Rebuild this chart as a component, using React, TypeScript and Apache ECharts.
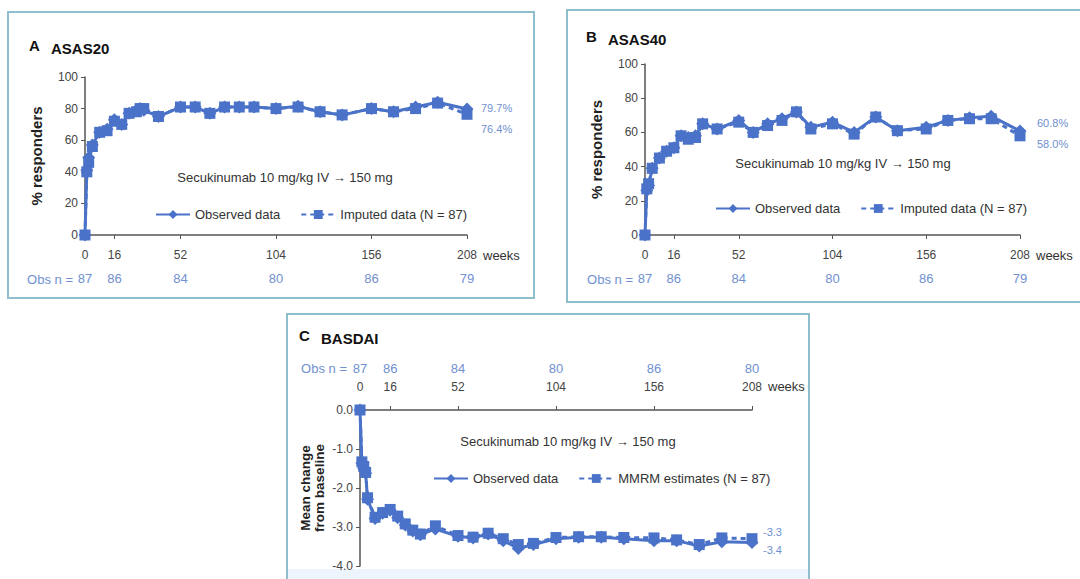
import React, { useEffect, useRef } from "react";
import * as echarts from "echarts";

// ---- Data ----
const tickWeeks = [0, 16, 52, 104, 156, 208];
const obsNAB = [87, 86, 84, 80, 86, 79];
const obsNC = [87, 86, 84, 80, 86, 80];

const weeksA = [0, 1, 2, 4, 8, 12, 16, 20, 24, 28, 30, 32, 40, 52, 60, 68, 76, 84, 92, 104, 116, 128, 140, 156, 168, 180, 192, 208];
const obsA = [0, 41, 49, 57, 65, 67, 73, 70, 77, 79, 80, 79, 75, 81, 81, 77, 81, 81, 81, 80, 81.5, 78, 76, 80, 78, 81, 84, 79.7];
const impA = [0, 40, 46, 56, 65, 66, 72, 70, 77, 78, 80, 80, 75, 81, 81, 77, 81, 81, 81, 80, 81, 78, 76, 80, 78, 80, 83.5, 76.4];

const weeksB = [0, 1, 2, 4, 8, 12, 16, 20, 24, 28, 32, 40, 52, 60, 68, 76, 84, 92, 104, 116, 128, 140, 156, 168, 180, 192, 208];
const obsB = [0, 26, 29, 39, 45, 49, 51, 58, 57, 58, 65, 62, 67, 60, 65, 68, 72, 63, 66, 60, 69, 61, 63, 67, 68.5, 69.5, 60.8];
const impB = [0, 27, 30, 39, 45, 49, 51, 58, 56, 57, 65, 62, 66, 60, 64, 67, 72, 62, 65, 59, 69, 61, 62, 67, 68, 68, 58.0];

const weeksC = [0, 1, 2, 3, 4, 8, 12, 16, 20, 24, 28, 32, 40, 52, 60, 68, 76, 84, 92, 104, 116, 128, 140, 156, 168, 180, 192, 208];
const obsC = [0, -1.36, -1.5, -1.62, -2.29, -2.78, -2.65, -2.57, -2.76, -2.95, -3.1, -3.2, -3.05, -3.24, -3.28, -3.18, -3.35, -3.55, -3.45, -3.3, -3.26, -3.26, -3.3, -3.35, -3.35, -3.49, -3.38, -3.4];
const impC = [0, -1.33, -1.45, -1.6, -2.25, -2.75, -2.63, -2.55, -2.72, -2.92, -3.08, -3.18, -2.97, -3.22, -3.26, -3.16, -3.3, -3.45, -3.42, -3.27, -3.25, -3.25, -3.27, -3.28, -3.33, -3.45, -3.28, -3.3];

const LBL_OBS = "Observed data";
const LBL_IMP = "Imputed data (N = 87)";
const LBL_MMRM = "MMRM estimates (N = 87)";
const SUBTITLE = "Secukinumab 10 mg/kg IV \u2192 150 mg";

const BLUE = "#4a72c8";
const LIGHT = "#7090d0";
const BORDER = "#8fbfcc";
const TXT = "#333";
const SANS = "'Liberation Sans', Arial, sans-serif";

const pairs = (xs: number[], ys: number[]) => xs.map((x, i) => [x, ys[i]]);

export default function App() {
  const ref = useRef<HTMLDivElement>(null);
  useEffect(() => {
    document.body.style.margin = "0";
    const chart = echarts.init(ref.current!, undefined, { renderer: "svg" });

    const mainX = (gi: number, pos: "bottom" | "top", margin: number, nameStyle: any) => ({
      type: "value",
      gridIndex: gi,
      position: pos,
      min: 0,
      max: 208,
      name: "weeks",
      nameLocation: "end",
      nameGap: 16,
      nameTextStyle: { fontFamily: SANS, fontSize: 13, color: TXT, ...nameStyle },
      axisLine: { show: true, onZero: false, lineStyle: { color: "#555", width: 1.5 } },
      axisTick: { show: true, customValues: tickWeeks, length: 4, lineStyle: { color: "#555" } },
      axisLabel: { show: true, customValues: tickWeeks, margin, fontFamily: SANS, fontSize: 12, color: "#444" },
      splitLine: { show: false },
    });
    const obsX = (gi: number, pos: "bottom" | "top", margin: number, ns: number[]) => ({
      type: "value",
      gridIndex: gi,
      position: pos,
      min: 0,
      max: 208,
      axisLine: { show: false, onZero: false },
      axisTick: { show: false },
      axisLabel: {
        show: true,
        customValues: tickWeeks,
        margin,
        fontFamily: SANS,
        fontSize: 13,
        color: LIGHT,
        formatter: (v: number) => String(ns[tickWeeks.indexOf(v)] ?? ""),
      },
      splitLine: { show: false },
    });
    const yAx = (gi: number, min: number, max: number, interval: number, name: string, nameGap: number, fmt: (v: number) => string, nameSize: number) => ({
      type: "value",
      gridIndex: gi,
      min,
      max,
      interval,
      name,
      nameLocation: "middle",
      nameGap,
      nameTextStyle: { fontFamily: SANS, fontWeight: "bold", fontSize: nameSize, color: "#222", lineHeight: 14 },
      axisLine: { show: true, onZero: false, lineStyle: { color: "#555", width: 1.5 } },
      axisTick: { show: true, length: 4, lineStyle: { color: "#555" } },
      axisLabel: { margin: 7, fontFamily: SANS, fontSize: 12, color: "#444", formatter: fmt },
      splitLine: { show: false },
    });

    const lineSeries = (name: string, xi: number, yi: number, data: number[][], dashed: boolean, endFmt: (v: number) => string, endOffset: number[]) => ({
      type: "line",
      name,
      xAxisIndex: xi,
      yAxisIndex: yi,
      data,
      symbol: dashed ? "rect" : "diamond",
      symbolSize: dashed ? 11 : 13,
      lineStyle: { color: BLUE, width: 3, type: dashed ? [5, 4] : "solid" },
      itemStyle: { color: BLUE },
      z: dashed ? 3 : 2,
      endLabel: {
        show: true,
        formatter: (p: any) => endFmt(p.value[1]),
        offset: endOffset,
        fontFamily: SANS,
        fontSize: 11,
        color: LIGHT,
      },
    });

    const pct = (v: number) => v.toFixed(1) + "%";
    const num = (v: number) => v.toFixed(1);

    const legendBase = {
      itemWidth: 34,
      itemHeight: 11,
      selectedMode: false,
      textStyle: { fontFamily: SANS, fontSize: 13, color: TXT },
      itemGap: 20,
    };

    const titleText = (x: number, y: number, letter: string, title: string) => [
      { type: "text", left: x, top: y, style: { text: letter, font: "bold 15px " + SANS, fill: "#111" } },
      { type: "text", left: x + 22, top: y + 3, style: { text: title, font: "bold 15px " + SANS, fill: "#111" } },
    ];

    const option: any = {
      animation: false,
      backgroundColor: "#ffffff",
      grid: [
        { left: 85, top: 77, width: 382, height: 158 },
        { left: 645, top: 64, width: 375, height: 171 },
        { left: 360, top: 410, width: 392, height: 156 },
      ],
      xAxis: [
        mainX(0, "bottom", 14, { verticalAlign: "top", padding: [14, 0, 0, 0] }),
        obsX(0, "bottom", 37, obsNAB),
        mainX(1, "bottom", 14, { verticalAlign: "top", padding: [14, 0, 0, 0] }),
        obsX(1, "bottom", 37, obsNAB),
        mainX(2, "top", 17, { verticalAlign: "bottom", padding: [0, 0, 17, 0] }),
        obsX(2, "top", 35, obsNC),
      ],
      yAxis: [
        yAx(0, 0, 100, 20, "% responders", 42, (v) => String(v), 15),
        yAx(1, 0, 100, 20, "% responders", 42, (v) => String(v), 15),
        yAx(2, -4, 0, 1, "Mean change\nfrom baseline", 34, (v) => v.toFixed(1), 13.5),
      ],
      legend: [
        { ...legendBase, left: 150, top: 203, data: [LBL_OBS, LBL_IMP] },
        { ...legendBase, left: 710, top: 197, data: [LBL_OBS, LBL_IMP] },
        { ...legendBase, left: 428, top: 467, data: [LBL_OBS, LBL_MMRM] },
      ],
      series: [
        lineSeries(LBL_OBS, 0, 0, pairs(weeksA, obsA), false, pct, [6, -1]),
        lineSeries(LBL_IMP, 0, 0, pairs(weeksA, impA), true, pct, [6, 15]),
        lineSeries(LBL_OBS, 2, 1, pairs(weeksB, obsB), false, pct, [9, -8]),
        lineSeries(LBL_IMP, 2, 1, pairs(weeksB, impB), true, pct, [9, 8]),
        lineSeries(LBL_OBS, 4, 2, pairs(weeksC, obsC), false, num, [3, 7]),
        lineSeries(LBL_MMRM, 4, 2, pairs(weeksC, impC), true, num, [3, -7]),
      ],
      graphic: [
        { type: "rect", shape: { x: 8, y: 12, width: 526, height: 286 }, style: { fill: "none", stroke: BORDER, lineWidth: 2 }, z: -1 },
        { type: "rect", shape: { x: 567, y: 10, width: 530, height: 292 }, style: { fill: "none", stroke: BORDER, lineWidth: 2 }, z: -1 },
        { type: "rect", shape: { x: 288, y: 569, width: 520, height: 20 }, style: { fill: "#eef4fb" }, z: -2 },
        { type: "rect", shape: { x: 287, y: 314, width: 522, height: 290 }, style: { fill: "none", stroke: BORDER, lineWidth: 2 }, z: -1 },
        ...titleText(29, 38, "A", "ASAS20"),
        ...titleText(586, 29, "B", "ASAS40"),
        ...titleText(299, 328, "C", "BASDAI"),
        { type: "text", x: 285, y: 177, style: { text: SUBTITLE, font: "13px " + SANS, fill: TXT, align: "center", verticalAlign: "middle" } },
        { type: "text", x: 843, y: 163, style: { text: SUBTITLE, font: "13px " + SANS, fill: TXT, align: "center", verticalAlign: "middle" } },
        { type: "text", x: 568, y: 441, style: { text: SUBTITLE, font: "13px " + SANS, fill: TXT, align: "center", verticalAlign: "middle" } },
        { type: "text", x: 73, y: 279, style: { text: "Obs n =", font: "13px " + SANS, fill: LIGHT, align: "right", verticalAlign: "middle" } },
        { type: "text", x: 633, y: 279, style: { text: "Obs n =", font: "13px " + SANS, fill: LIGHT, align: "right", verticalAlign: "middle" } },
        { type: "text", x: 347, y: 368, style: { text: "Obs n =", font: "13px " + SANS, fill: LIGHT, align: "right", verticalAlign: "middle" } },
      ],
    };
    chart.setOption(option);
    return () => chart.dispose();
  }, []);
  return <div ref={ref} style={{ width: 1080, height: 579 }} />;
}
